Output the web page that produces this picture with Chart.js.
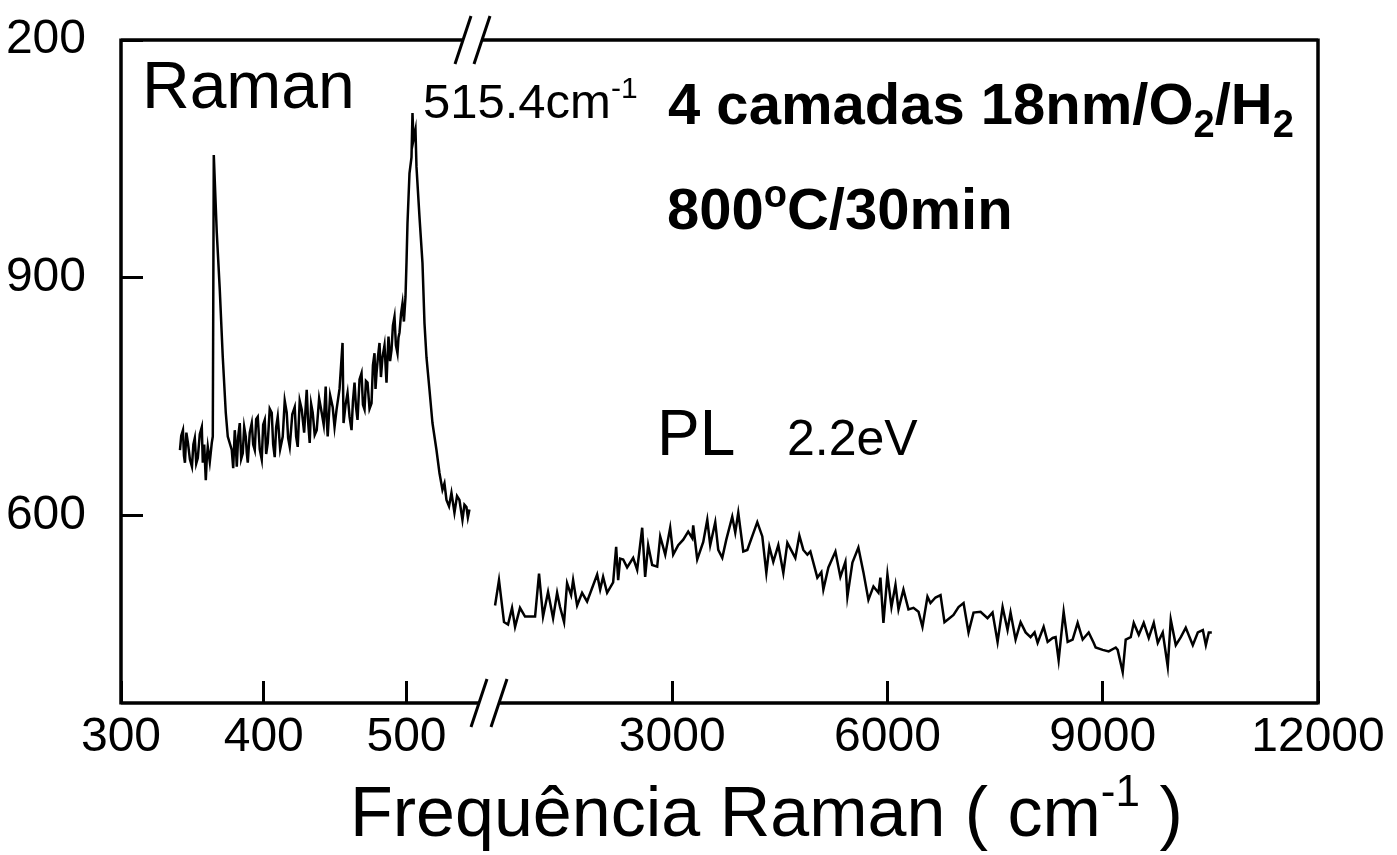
<!DOCTYPE html>
<html>
<head>
<meta charset="utf-8">
<title>Raman / PL</title>
<script src="https://cdn.jsdelivr.net/npm/chart.js"></script>
<style>
  html, body { margin: 0; padding: 0; background: #fff; overflow: hidden; }
  #wrap { width: 1397px; height: 855px; }
</style>
</head>
<body>
<div id="wrap"><canvas id="chart" width="1397" height="855"></canvas></div>
<script>
// Raman spectrum (left axis segment, cm-1)
const ramanX = [341.3, 342.2, 343.4, 344.1, 344.8, 345.8, 346.9, 348.3, 349.7, 350.7,
  351.7, 352.7, 353.8, 355.2, 356.6, 357.3, 358.3, 359.4, 360.1, 360.8,
  362.2, 363.6, 364.3, 365.0, 367.1, 369.2, 371.3, 373.4, 374.8, 377.6,
  378.6, 379.7, 380.4, 381.1, 382.1, 383.2, 384.2, 385.3, 386.3, 387.4,
  388.1, 388.8, 390.2, 391.6, 392.6, 393.7, 394.7, 395.8, 397.2, 398.6,
  399.6, 400.7, 401.7, 402.8, 404.2, 405.6, 406.6, 407.7, 408.7, 409.8,
  411.5, 413.3, 414.7, 416.1, 417.1, 418.2, 420.0, 421.7, 422.7, 423.8,
  425.2, 426.6, 428.3, 430.1, 431.1, 432.2, 433.2, 434.3, 435.7, 437.1,
  438.8, 440.6, 442.0, 443.4, 444.1, 444.8, 446.5, 448.3, 449.6, 451.0,
  453.1, 455.2, 455.9, 457.3, 458.7, 460.1, 461.5, 462.5, 463.6, 464.6,
  465.7, 467.1, 468.5, 469.5, 470.6, 471.6, 472.7, 474.1, 475.5, 476.5,
  477.6, 478.3, 479.0, 480.0, 481.1, 482.1, 483.2, 484.6, 486.0, 486.7,
  487.4, 488.5, 489.5, 490.5, 491.6, 492.6, 493.7, 494.4, 495.1, 496.2,
  497.2, 498.2, 499.3, 500.0, 500.7, 502.1, 503.5, 504.2, 504.9, 506.3,
  507.0, 509.1, 511.2, 512.6, 514.0, 516.1, 518.2, 521.0, 523.1, 525.2,
  526.6, 528.0, 529.8, 531.5, 533.6, 535.4, 537.1, 539.2, 540.6, 542.0,
  543.0, 544.1];
const ramanY = [683, 701, 708, 676, 667, 705, 692, 671, 662, 690,
  698, 666, 673, 703, 712, 667, 690, 645, 672, 687,
  668, 692, 700, 1055, 957, 885, 800, 730, 700, 683,
  660, 708, 690, 662, 700, 717, 672, 679, 712, 700,
  680, 667, 705, 717, 690, 683, 722, 725, 684, 671,
  715, 721, 678, 692, 735, 730, 690, 674, 712, 725,
  684, 700, 745, 730, 698, 687, 728, 737, 700, 687,
  745, 734, 705, 759, 718, 692, 741, 730, 702, 708,
  748, 730, 715, 763, 722, 700, 752, 737, 712, 734,
  760, 818, 717, 740, 755, 725, 708, 745, 768, 738,
  721, 772, 780, 740, 734, 770, 768, 735, 742, 790,
  805, 760, 780, 800, 818, 775, 800, 815, 768, 800,
  826, 795, 809, 840, 851, 815, 805, 825, 831, 855,
  868, 845, 876, 919, 969, 1032, 1052, 1108, 1074, 1087,
  1040, 977, 919, 843, 800, 759, 717, 683, 654, 633,
  641, 620, 612, 629, 604, 625, 620, 595, 614, 611,
  598, 608];

// PL band (right axis segment, cm-1)
const plX = [530, 585, 655, 711, 767, 809, 878, 948, 1088, 1143,
  1199, 1269, 1339, 1395, 1436, 1492, 1534, 1590, 1618, 1674,
  1743, 1813, 1953, 1995, 2036, 2092, 2176, 2218, 2246, 2274,
  2316, 2371, 2455, 2511, 2581, 2622, 2664, 2720, 2790, 2832,
  2902, 2971, 3013, 3083, 3153, 3222, 3278, 3292, 3348, 3432,
  3488, 3529, 3599, 3641, 3697, 3753, 3836, 3878, 3920, 3990,
  4046, 4185, 4255, 4311, 4353, 4408, 4478, 4548, 4604, 4715,
  4771, 4827, 4883, 4925, 5022, 5078, 5106, 5176, 5274, 5343,
  5413, 5441, 5511, 5594, 5664, 5734, 5804, 5874, 5901, 5943,
  5999, 6055, 6111, 6153, 6222, 6292, 6362, 6432, 6487, 6557,
  6599, 6669, 6739, 6794, 6850, 6920, 6990, 7060, 7129, 7199,
  7297, 7394, 7464, 7534, 7604, 7673, 7715, 7785, 7855, 7925,
  7994, 8050, 8092, 8176, 8232, 8301, 8343, 8385, 8455, 8511,
  8580, 8650, 8720, 8804, 8873, 8901, 8999, 9083, 9181, 9208,
  9278, 9320, 9390, 9432, 9502, 9571, 9641, 9711, 9767, 9836,
  9906, 9948, 10018, 10088, 10157, 10255, 10325, 10395, 10437, 10478,
  10520];
const plY = [487, 519, 466, 463, 484, 460, 484, 473, 473, 527,
  473, 504, 471, 503, 485, 466, 515, 500, 519, 487,
  503, 492, 526, 507, 523, 503, 516, 561, 519, 546,
  545, 535, 547, 532, 585, 523, 563, 538, 536, 574,
  551, 585, 551, 563, 570, 580, 572, 588, 545, 567,
  595, 563, 592, 557, 547, 570, 599, 579, 604, 555,
  557, 592, 574, 528, 561, 542, 563, 528, 566, 547,
  575, 557, 551, 555, 522, 529, 507, 535, 555, 523,
  542, 498, 541, 560, 529, 494, 511, 503, 522, 465,
  526, 485, 513, 482, 507, 482, 484, 479, 460, 498,
  490, 497, 500, 466, 470, 475, 485, 490, 453, 478,
  479, 471, 478, 441, 485, 456, 478, 444, 466, 453,
  447, 453, 440, 460, 441, 446, 447, 418, 479, 441,
  444, 465, 444, 453, 440, 434, 431, 429, 434, 431,
  403, 444, 447, 465, 450, 465, 446, 465, 440, 453,
  410, 469, 437, 447, 459, 437, 453, 456, 437, 453,
  453];

// axes
const yRange = [364, 1200];
const yTicks = [600, 900, 1200];
const xLeftRange = [300, 555];
const xLeftTicks = [300, 400, 500];
const xRightRange = [390, 12000];
const xRightTicks = [3000, 6000, 9000, 12000];

// texts
const ramanLabel = "Raman";
const peakLabel = ["515.4cm", "-1"];
const titleLine1 = ["4 camadas 18nm/O", "2", "/H", "2"];
const titleLine2 = ["800", "o", "C/30min"];
const plLabel = "PL";
const plEnergy = "2.2eV";
const xTitle = ["Frequência Raman ( cm", "-1", " )"];

const FONT = '"Liberation Sans", Arial, Helvetica, sans-serif';

function drawParts(ctx, x, y, parts) {
  for (const p of parts) {
    ctx.font = (p.bold ? "bold " : "") + p.size + "px " + FONT;
    ctx.fillText(p.text, x, y + (p.dy || 0));
    x += ctx.measureText(p.text).width;
  }
}

// the scanned figure is cut at its left edge
const cropPlugin = {
  id: "crop",
  beforeDraw(chart) {
    const ctx = chart.ctx;
    ctx.save();
    ctx.beginPath();
    ctx.rect(6, 0, chart.width - 6, chart.height);
    ctx.clip();
  },
  afterDraw(chart) {
    chart.ctx.restore();
  }
};

// frame with the axis breaks
const framePlugin = {
  id: "frame",
  afterDraw(chart) {
    const { ctx, chartArea: a, scales } = chart;
    const brk = scales.xL.right;
    const topCuts = [brk - 22, brk - 3];
    const botCuts = [brk - 6, brk + 14];
    ctx.save();
    ctx.strokeStyle = "#000";
    ctx.lineWidth = 3.5;
    ctx.beginPath();
    ctx.moveTo(a.left, a.top - 1.5); ctx.lineTo(a.left, a.bottom + 1.5);
    ctx.moveTo(a.right, a.top - 1.5); ctx.lineTo(a.right, a.bottom + 1.5);
    ctx.moveTo(a.left, a.top); ctx.lineTo(topCuts[0], a.top);
    ctx.moveTo(topCuts[1], a.top); ctx.lineTo(a.right, a.top);
    ctx.moveTo(a.left, a.bottom); ctx.lineTo(botCuts[0], a.bottom);
    ctx.moveTo(botCuts[1], a.bottom); ctx.lineTo(a.right, a.bottom);
    ctx.stroke();
    ctx.lineWidth = 3;
    ctx.beginPath();
    for (const c of topCuts) { ctx.moveTo(c - 8, a.top + 24); ctx.lineTo(c + 8, a.top - 24); }
    for (const c of botCuts) { ctx.moveTo(c - 8, a.bottom + 24); ctx.lineTo(c + 8, a.bottom - 24); }
    ctx.stroke();
    ctx.restore();
  }
};

const textPlugin = {
  id: "texts",
  afterDraw(chart) {
    const ctx = chart.ctx;
    ctx.save();
    ctx.fillStyle = "#000";
    ctx.textBaseline = "alphabetic";
    ctx.textAlign = "left";
    drawParts(ctx, 142, 108, [{ text: ramanLabel, size: 66 }]);
    drawParts(ctx, 423, 118, [{ text: peakLabel[0], size: 49 }, { text: peakLabel[1], size: 30, dy: -20 }]);
    drawParts(ctx, 668, 124, [
      { text: titleLine1[0], size: 58, bold: true },
      { text: titleLine1[1], size: 38, bold: true, dy: 13 },
      { text: titleLine1[2], size: 58, bold: true },
      { text: titleLine1[3], size: 38, bold: true, dy: 13 }
    ]);
    drawParts(ctx, 667, 229, [
      { text: titleLine2[0], size: 58, bold: true },
      { text: titleLine2[1], size: 38, bold: true, dy: -22 },
      { text: titleLine2[2], size: 58, bold: true }
    ]);
    drawParts(ctx, 657, 455, [{ text: plLabel, size: 64 }]);
    drawParts(ctx, 787, 455, [{ text: plEnergy, size: 50 }]);
    drawParts(ctx, 350, 836, [
      { text: xTitle[0], size: 70 },
      { text: xTitle[1], size: 44, dy: -30 },
      { text: xTitle[2], size: 70 }
    ]);
    ctx.restore();
  }
};

const tickFont = { family: FONT, size: 48 };
const axisGrid = { drawOnChartArea: false, drawTicks: true, tickLength: -22, tickWidth: 3, color: "#000" };

function xAxis(range, ticks, weight) {
  return {
    type: "linear",
    position: "bottom",
    stack: "freq",
    stackWeight: weight,
    min: range[0],
    max: range[1],
    afterBuildTicks: s => { s.ticks = ticks.map(v => ({ value: v })); },
    afterFit: s => { s.height = 152; s.paddingLeft = 0; s.paddingRight = 0; },
    grid: axisGrid,
    border: { display: false },
    ticks: { color: "#000", font: tickFont, padding: 28, maxRotation: 0, autoSkip: false, callback: v => String(v) }
  };
}

new Chart(document.getElementById("chart"), {
  type: "line",
  data: {
    datasets: [
      {
        label: "Raman",
        data: ramanX.map((x, i) => ({ x: x, y: ramanY[i] })),
        xAxisID: "xL",
        yAxisID: "y",
        borderColor: "#000",
        borderWidth: 2.5,
        pointRadius: 0,
        tension: 0,
        fill: false
      },
      {
        label: "PL",
        data: plX.map((x, i) => ({ x: x, y: plY[i] })),
        xAxisID: "xR",
        yAxisID: "y",
        borderColor: "#000",
        borderWidth: 2.5,
        pointRadius: 0,
        tension: 0,
        fill: false
      }
    ]
  },
  options: {
    responsive: false,
    animation: false,
    layout: { autoPadding: false, padding: { left: 0, top: 40, right: 79, bottom: 0 } },
    plugins: { legend: { display: false }, tooltip: { enabled: false } },
    scales: {
      xL: xAxis(xLeftRange, xLeftTicks, 364),
      xR: xAxis(xRightRange, xRightTicks, 833),
      y: {
        type: "linear",
        position: "left",
        min: yRange[0],
        max: yRange[1],
        afterBuildTicks: s => { s.ticks = yTicks.map(v => ({ value: v })); },
        afterFit: s => { s.width = 121; s.paddingTop = 0; s.paddingBottom = 0; },
        grid: axisGrid,
        border: { display: false },
        ticks: { color: "#000", font: tickFont, padding: 57, callback: v => String(v) }
      }
    }
  },
  plugins: [cropPlugin, framePlugin, textPlugin]
});
</script>
</body>
</html>
